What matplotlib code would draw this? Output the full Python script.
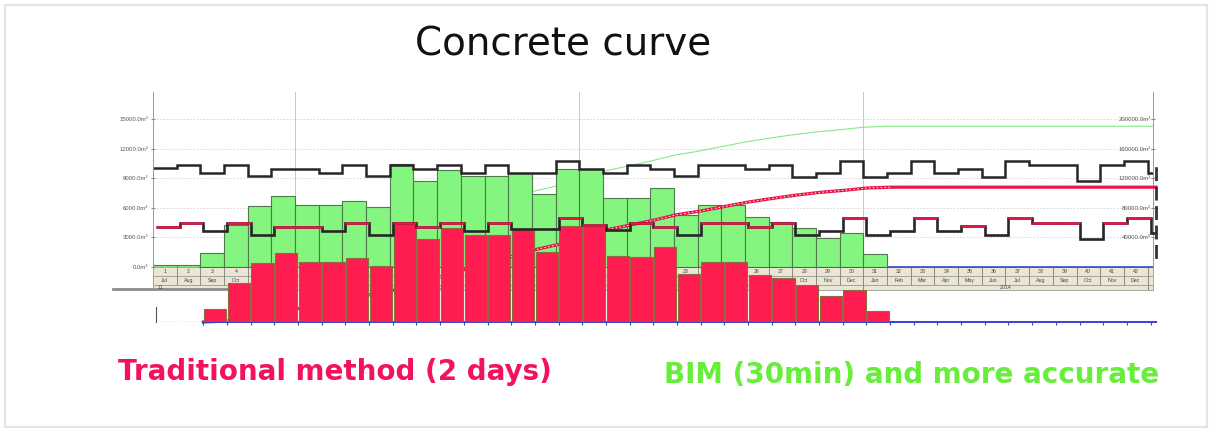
import numpy as np
import matplotlib.pyplot as plt
from matplotlib.patches import Rectangle

plt.rcParams['font.family'] = ['Liberation Sans', 'DejaVu Sans']

# =========================================================
# DATA
# =========================================================

MONTHS = ['Jan', 'Feb', 'Mar', 'Apr', 'May', 'Jun',
          'Jul', 'Aug', 'Sep', 'Oct', 'Nov', 'Dec']
month_no = list(range(1, 44))
month_labels = [MONTHS[(i + 6) % 12] for i in range(43)]   # starts in Jul
year_labels = ['11', '2012', '2013', '2014']
year_start = [0, 6, 18, 30]
year_end = [6, 18, 30, 42]

# monthly concrete volume, m3 (BIM take-off, green)
bim_volume = [200, 200, 1390, 4260, 6180, 7230, 6280, 6280, 6720, 6110,
              10440, 8750, 9830, 9220, 9220, 9500, 7400, 9930, 9930, 6960,
              6960, 8040, 5270, 6280, 6280, 5100, 4600, 3920, 2970, 3410, 1320]

# monthly concrete volume, m3 (traditional take-off, red)
trad_volume = [0, 0, 1270, 3950, 5980, 7000, 6040, 6040, 6490, 5710,
               10140, 8410, 9530, 8850, 8850, 9430, 7060, 9700, 9770, 6650,
               6590, 7600, 4900, 6040, 6040, 4800, 4460, 3780, 2670, 3280, 1150]

# capacity step lines
bim_step = [10000, 10340, 9500, 10340, 9220, 9930, 9930, 9500, 10340, 9220,
            10340, 9930, 10340, 9500, 10340, 9500, 9500, 10740, 9930, 9500,
            10340, 9930, 9220, 10340, 10340, 9930, 10340, 9160, 9570, 10740,
            9160, 9570, 10740, 9570, 9930, 9160, 10740, 10340, 10340, 8750,
            10340, 10740, 9500]

trad_step = [9660, 10070, 9220, 10070, 8820, 9660, 9660, 9220, 10070, 8820,
             10070, 9660, 10070, 9220, 10070, 9390, 9390, 10510, 9830, 9320,
             10070, 9660, 8820, 10070, 10070, 9660, 10070, 8820, 9260, 10510,
             8820, 9260, 10510, 9260, 9730, 8820, 10510, 10070, 10070, 8380,
             10070, 10510, 9020]

left_ticks = [0, 3000, 6000, 9000, 12000, 15000]
right_ticks = [40000, 80000, 120000, 160000, 200000]

# =========================================================
# LAYOUT HELPERS
# =========================================================

W, H = 1212, 428
COL_PX = 23.68          # width of one month column
PX_PER_M3 = 148 / 15000  # vertical scale of the source chart
RIGHT_SCALE = 40000 / 3000

XMAX = 1000 / COL_PX
YMAX = 175 / PX_PER_M3


def box(left, top, right, bottom):
    return [left / W, 1 - bottom / H, (right - left) / W, (bottom - top) / H]


fig = plt.figure(figsize=(W / 100, H / 100), dpi=100)

GREEN = '#84f57e'
GREEN_EDGE = '#4f7a4c'
RED = '#ff1c50'
RED_EDGE = '#8c6d3f'
BLUE = '#3344cc'

edges = np.arange(len(bim_step) + 1)
x_bar = np.arange(len(bim_volume)) + 0.5

# =========================================================
# BIM CHART (green)
# =========================================================

ax_g = fig.add_axes(box(153, 92, 1153, 267))
ax_g2 = ax_g.twinx()
ax_g.set_zorder(1)
ax_g2.set_zorder(2)
ax_g.set_xlim(0, XMAX)
ax_g.set_ylim(0, YMAX)
ax_g2.set_ylim(0, YMAX * RIGHT_SCALE)

bim_cum = np.concatenate([[0], np.cumsum(bim_volume)])
cx = np.append(np.arange(len(bim_cum)), XMAX)
cy = np.append(bim_cum, bim_cum[-1])
ax_g.plot(cx, cy, color='#86e886', lw=0.8, zorder=2, transform=ax_g2.transData)

ax_g.bar(x_bar, bim_volume, width=1.0, color=GREEN, edgecolor=GREEN_EDGE,
         linewidth=0.8, zorder=3)
ax_g.stairs(bim_step, edges, baseline=None, color='#262626', lw=1.8, zorder=4)

ax_g.set_xticks([6, 18, 30])
ax_g.set_xticklabels([])
ax_g.tick_params(axis='x', length=0)
ax_g.grid(axis='x', color='#c8c8c8', lw=0.7)
ax_g.set_yticks(left_ticks)
ax_g.set_yticklabels([f'{v:.1f}m³' for v in left_ticks])
ax_g.grid(axis='y', color='#d2d2d2', lw=0.6, ls=(0, (2, 2)))
ax_g.tick_params(axis='y', labelsize=4.3, labelcolor='#555555', color='#888888',
                 length=3, direction='inout', pad=2)
ax_g.set_axisbelow(True)

ax_g2.set_yticks(right_ticks)
ax_g2.set_yticklabels([f'{v:.1f}m³' for v in right_ticks])
ax_g2.tick_params(axis='y', labelsize=4.3, labelcolor='#555555', color='#888888',
                  length=3, direction='inout', pad=-3)
for t in ax_g2.get_yticklabels():
    t.set_horizontalalignment('right')

for a in (ax_g, ax_g2):
    a.spines['top'].set_visible(False)
    a.spines['left'].set_color('#999999')
    a.spines['right'].set_color('#999999')
    a.spines['left'].set_linewidth(0.6)
    a.spines['right'].set_linewidth(0.6)
    a.spines['bottom'].set_visible(False)
ax_g.spines['bottom'].set_visible(True)
ax_g.spines['bottom'].set_color(BLUE)
ax_g.spines['bottom'].set_linewidth(1.2)
ax_g.spines['bottom'].set_bounds(2, XMAX)

# month band under the green chart
ax_b = fig.add_axes(box(153, 267, 1153, 290))
ax_b.set_facecolor('#ebe6d3')
ax_b.set_xlim(0, XMAX)
ax_b.set_ylim(0, 23)
ax_b.set_xticks([])
ax_b.set_yticks([])
ax_b.vlines(edges[1:-1], 5, 23, color='#666666', lw=0.5)
ax_b.hlines([5, 14], 0, XMAX, color='#888888', lw=0.5)
ax_b.vlines(year_end, 0, 5, color='#666666', lw=0.5)
for i, n in enumerate(month_no):
    ax_b.text(i + 0.5, 18.5, str(n), ha='center', va='center', fontsize=3.8,
              color='#444444', clip_on=True)
    ax_b.text(i + 0.5, 9.5, month_labels[i], ha='center', va='center',
              fontsize=3.8, color='#444444', clip_on=True)
for lab, s, e in zip(year_labels, year_start, year_end):
    if s == 0:
        ax_b.text(s + 0.2, 2.5, lab, ha='left', va='center', fontsize=3.8,
                  color='#444444')
    else:
        ax_b.text((s + e) / 2, 2.5, lab, ha='center', va='center', fontsize=3.8,
                  color='#444444')
for sp in ax_b.spines.values():
    sp.set_color('#999999')
    sp.set_linewidth(0.6)
ax_b.plot([-1.7, 3.2], [1, 1], color='#8c8c8c', lw=2, clip_on=False)

# =========================================================
# TRADITIONAL CHART (red, pasted lower)
# =========================================================

ax_r = fig.add_axes(box(156, 147, 1156, 322))
ax_r2 = ax_r.twinx()
ax_r.set_zorder(3)
ax_r2.set_zorder(4)
ax_r.patch.set_visible(False)
ax_r2.patch.set_visible(False)
ax_r.set_xlim(0, XMAX)
ax_r.set_ylim(0, YMAX)
ax_r2.set_ylim(0, YMAX * RIGHT_SCALE)

trad_cum = np.concatenate([[0], np.cumsum(trad_volume)])
rx = np.arange(len(trad_cum))
first = 2  # traditional take-off starts in month 3
ax_r.plot(np.append(rx[first:], XMAX), np.append(trad_cum[first:], trad_cum[-1]),
          color='#e8174a', lw=2.3, zorder=2, transform=ax_r2.transData,
          clip_on=False)
ax_r.plot(rx[first:], trad_cum[first:], color='white', lw=0.7,
          ls=(0, (1.5, 2.5)), zorder=2, transform=ax_r2.transData)

ax_r.bar(x_bar, trad_volume, width=0.94, color=RED, edgecolor=RED_EDGE,
         linewidth=0.8, zorder=3)

trad_step = np.array(trad_step)
ax_r.stairs(trad_step, edges, baseline=None, color='#262626', lw=1.9, zorder=4)
high = trad_step >= 9600
ax_r.hlines(trad_step[high], edges[:-1][high], edges[1:][high],
            color='#e8174a', lw=1.8, zorder=5)

ax_r.set_xticks(np.arange(2, 43))
ax_r.set_xticklabels([])
ax_r.tick_params(axis='x', length=2, color=BLUE, width=0.8)
ax_r.set_yticks([])
ax_r2.set_yticks([])
for a in (ax_r, ax_r2):
    for sp in a.spines.values():
        sp.set_visible(False)
ax_r.spines['bottom'].set_visible(True)
ax_r.spines['bottom'].set_color(BLUE)
ax_r.spines['bottom'].set_linewidth(1.4)
ax_r.spines['bottom'].set_bounds(2, XMAX)
ax_r.spines['left'].set_visible(True)
ax_r.spines['left'].set_color('#555555')
ax_r.spines['left'].set_linewidth(0.8)
ax_r.spines['left'].set_bounds(0, 1500)
ax_r.spines['right'].set_visible(True)
ax_r.spines['right'].set_color('#333333')
ax_r.spines['right'].set_linewidth(2)
ax_r.spines['right'].set_linestyle((0, (4, 3)))
ax_r.spines['right'].set_bounds(6590, 16420)

# =========================================================
# SLIDE TEXT + FRAME
# =========================================================

fig.text(563 / W, 1 - 45 / H, 'Concrete curve', ha='center', va='center',
         fontsize=28, color='#111111', family='DejaVu Sans')
fig.text(335 / W, 1 - 372 / H, 'Traditional method (2 days)', ha='center',
         va='center', fontsize=20, fontweight='bold', color='#f2135c',
         family='DejaVu Sans')
fig.text(912 / W, 1 - 375 / H, 'BIM (30min) and more accurate', ha='center',
         va='center', fontsize=20, fontweight='bold', color='#66ee3a',
         family='DejaVu Sans')

fig.add_artist(Rectangle((5 / W, 1 - 427 / H), 1202 / W, 422 / H, fill=False,
                         ec='#e4e4e4', lw=1.5, transform=fig.transFigure))

fig.savefig('out.png', dpi=100)
